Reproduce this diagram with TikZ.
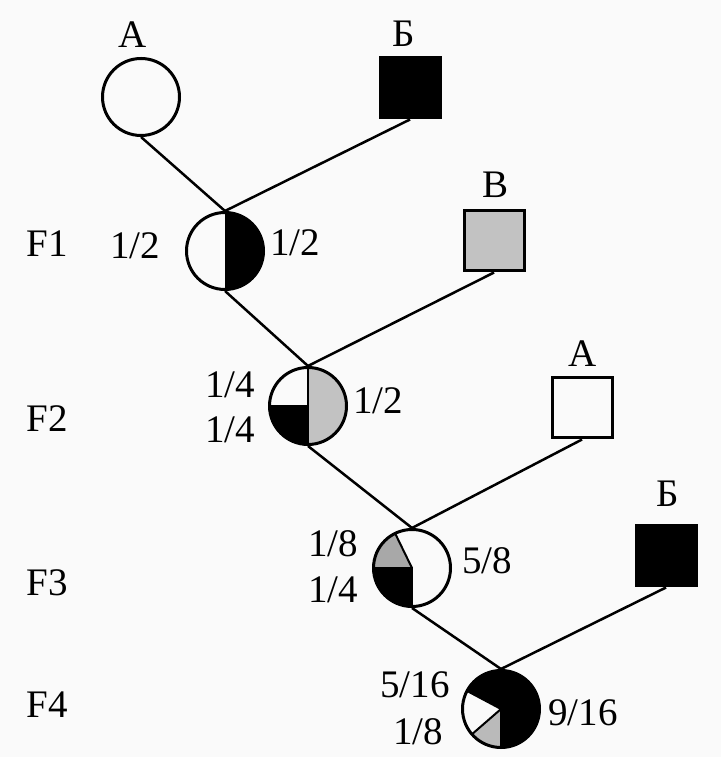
\documentclass[tikz,border=0pt]{standalone}
\usepackage{fontspec}
\setmainfont{Liberation Serif}
\tikzset{
  female/.style={circle,draw,line width=3pt,minimum size=77pt,inner sep=0pt},
  male/.style={rectangle,draw,line width=3pt,minimum size=60pt,inner sep=0pt},
  lbl/.style={font=\fontsize{39}{42}\selectfont,inner sep=0pt},
  link/.style={line width=2.5pt},
  split/.style={line width=2pt},
}
\definecolor{dotgray}{gray}{0.76}
\definecolor{wedgegray}{gray}{0.66}
\begin{document}
\begin{tikzpicture}[x=1pt,y=1pt]
\fill[gray!4] (0,0) rectangle (721,757);
\useasboundingbox (0,0) rectangle (721,757);
% parents
\node[female] (a1) at (141,660) {};
\node[male,fill=black] (b1) at (410,669) {};
\node[male,fill=dotgray] (v1) at (494,516) {};
\node[male] (a2) at (582,349) {};
\node[male,fill=black] (b2) at (666,201) {};
% offspring
\node[female,path picture={
  \fill[black] (path picture bounding box.north) rectangle (path picture bounding box.south east);
}] (f1) at (225,506) {};
\node[female,path picture={
  \fill[dotgray] (path picture bounding box.north) rectangle (path picture bounding box.south east);
  \fill[black] (path picture bounding box.center) rectangle (path picture bounding box.south west);
  \draw[split] (path picture bounding box.north) -- (path picture bounding box.south);
  \draw[split] (path picture bounding box.west) -- (path picture bounding box.center);
}] (f2) at (308,351) {};
\node[female,path picture={
  \fill[wedgegray] (path picture bounding box.center) -- ++(116:60pt) arc[start angle=116,end angle=180,radius=60pt] -- cycle;
  \fill[black] (path picture bounding box.center) rectangle (path picture bounding box.south west);
  \draw[split] (path picture bounding box.center) -- ++(116:60pt);
  \draw[split] (path picture bounding box.west) -- (path picture bounding box.center) -- (path picture bounding box.south);
}] (f3) at (412,189) {};
\node[female,path picture={
  \fill[black] (path picture bounding box.center) -- ++(-90:60pt) arc[start angle=-90,end angle=152,radius=60pt] -- cycle;
  \fill[wedgegray!80] (path picture bounding box.center) -- ++(221:60pt) arc[start angle=221,end angle=270,radius=60pt] -- cycle;
  \draw[split] (path picture bounding box.center) -- ++(152:60pt);
  \draw[split] (path picture bounding box.center) -- ++(221:60pt);
  \draw[split] (path picture bounding box.center) -- (path picture bounding box.south);
}] (f4) at (501,48) {};
% crosses
\draw[link] (a1.south) -- (f1.north);
\draw[link] (b1.south) -- (f1.north);
\draw[link] (f1.south) -- (f2.north);
\draw[link] (v1.south) -- (f2.north);
\draw[link] (f2.south) -- (f3.north);
\draw[link] (a2.south) -- (f3.north);
\draw[link] (f3.south) -- (f4.north);
\draw[link] (b2.south) -- (f4.north);
% names
\node[lbl] (na1) at (133,722) {А};
\node[lbl] (nb1) at (404,723) {Б};
\node[lbl] (nv1) at (495,572) {В};
\node[lbl] (na2) at (583,403) {А};
\node[lbl] (nb2) at (668,263) {Б};
% generations
\node[lbl] (g1) at (47,513) {F1};
\node[lbl] (g2) at (47,338) {F2};
\node[lbl] (g3) at (47,174) {F3};
\node[lbl] (g4) at (47,52) {F4};
% shares
\node[lbl] (s1l) at (135,511) {1/2};
\node[lbl] (s1r) at (295,514) {1/2};
\node[lbl] (s2a) at (230,372) {1/4};
\node[lbl] (s2b) at (230,327) {1/4};
\node[lbl] (s2r) at (378,356) {1/2};
\node[lbl] (s3a) at (333,213) {1/8};
\node[lbl] (s3b) at (333,167) {1/4};
\node[lbl] (s3r) at (487,196) {5/8};
\node[lbl] (s4a) at (415,72) {5/16};
\node[lbl] (s4b) at (418,25) {1/8};
\node[lbl] (s4r) at (583,44) {9/16};
\end{tikzpicture}
\end{document}
